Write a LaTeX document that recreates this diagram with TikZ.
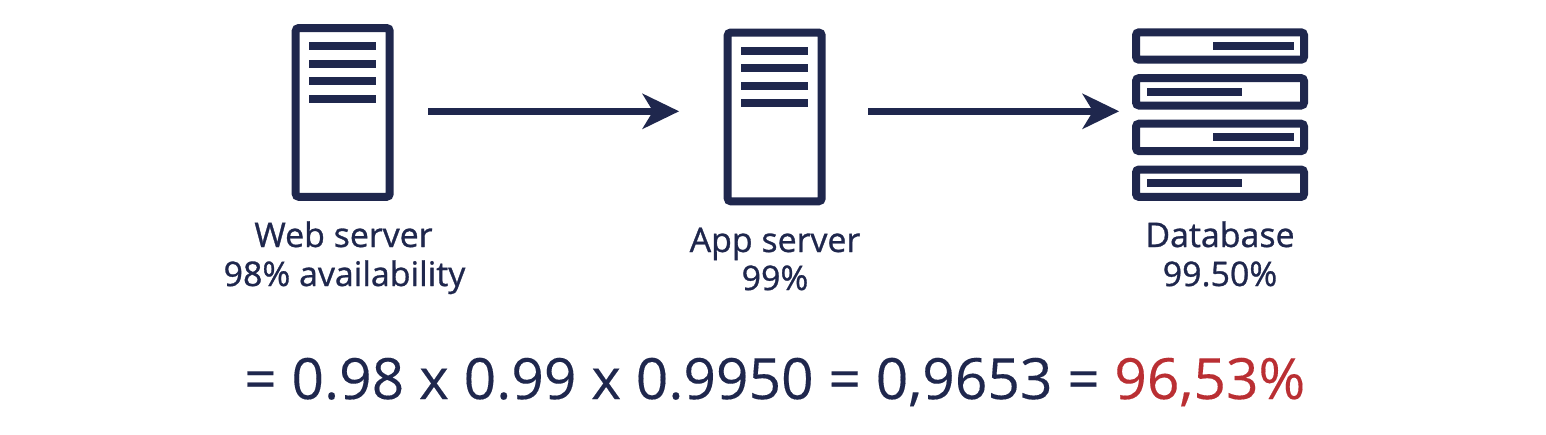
\documentclass[tikz,border=0pt]{standalone}
\usepackage{fontspec}
\setmainfont{Open Sans}
\newfontfamily\capfont[FakeBold=0.9]{Open Sans}
\newfontfamily\sumfont[FakeBold=0.2]{Open Sans}
\usetikzlibrary{arrows.meta}
\definecolor{navy}{HTML}{1F274D}
\definecolor{crimson}{HTML}{BA2F33}
\tikzset{
  x=1pt,y=-1pt,
  frame/.style={draw=navy,line width=8pt,rounded corners=3pt,inner sep=0pt,outer sep=0pt,fill=white},
  bar/.style={fill=navy,inner sep=0pt,outer sep=0pt},
  flow/.style={draw=navy,line width=7pt,-{Stealth[length=37pt,width=36pt,inset=11pt,line width=0pt]}},
  caption/.style={text=navy,font=\capfont\fontsize{33.9}{33.9}\selectfont,anchor=base,inner sep=0pt},
  formula/.style={text=navy,font=\sumfont\fontsize{56.9}{56.9}\selectfont,anchor=base west,inner sep=0pt}
}
\begin{document}
\begin{tikzpicture}
\useasboundingbox[fill=white] (0,0) rectangle (1546,434);
% web server
\node[frame,minimum width=94pt,minimum height=168.7pt] (web) at (342.7,112.4) {};
\foreach \n/\y in {a/46.3,b/63.6,c/81.3,d/98.6}
  \node[bar,minimum width=66.7pt,minimum height=8pt] (web\n) at (342.7,\y) {};
% app server
\node[frame,minimum width=94pt,minimum height=168.7pt] (app) at (774.7,116.9) {};
\foreach \n/\y in {a/50.8,b/68.1,c/85.8,d/103.1}
  \node[bar,minimum width=66.7pt,minimum height=8pt] (app\n) at (774.7,\y) {};
% database
\node[frame,minimum width=168pt,minimum height=27.4pt] (dba) at (1220,46) {};
\node[frame,minimum width=168pt,minimum height=27.4pt] (dbb) at (1220,91.8) {};
\node[frame,minimum width=168pt,minimum height=27.4pt] (dbc) at (1220,137.4) {};
\node[frame,minimum width=168pt,minimum height=27.4pt] (dbd) at (1220,183.2) {};
\node[bar,minimum width=81pt,minimum height=8pt] (bara) at (1253.5,46) {};
\node[bar,minimum width=95pt,minimum height=8pt] (barb) at (1194,91.8) {};
\node[bar,minimum width=81pt,minimum height=8pt] (barc) at (1253.5,137.4) {};
\node[bar,minimum width=95pt,minimum height=8pt] (bard) at (1194,183.2) {};
% arrows
\coordinate (a1) at (428,111.3);
\coordinate (a2) at (679,111.3);
\coordinate (b1) at (868,111.3);
\coordinate (b2) at (1119,111.3);
\draw[flow] (a1) -- (a2);
\draw[flow] (b1) -- (b2);
% captions
\node[caption] (webname) at (343.5,247) {Web server};
\node[caption] (webav) at (344.5,286) {98\% availability};
\node[caption] (appname) at (775,252) {App server};
\node[caption] (appav) at (775,290) {99\%};
\node[caption] (dbname) at (1220,247) {Database};
\node[caption] (dbav) at (1220,286) {99.50\%};
% formula
\node[formula] (calc) at (244,399) {= 0.98 x 0.99 x 0.9950 = 0,9653 = \textcolor{crimson}{96,53\%}};
\end{tikzpicture}
\end{document}
